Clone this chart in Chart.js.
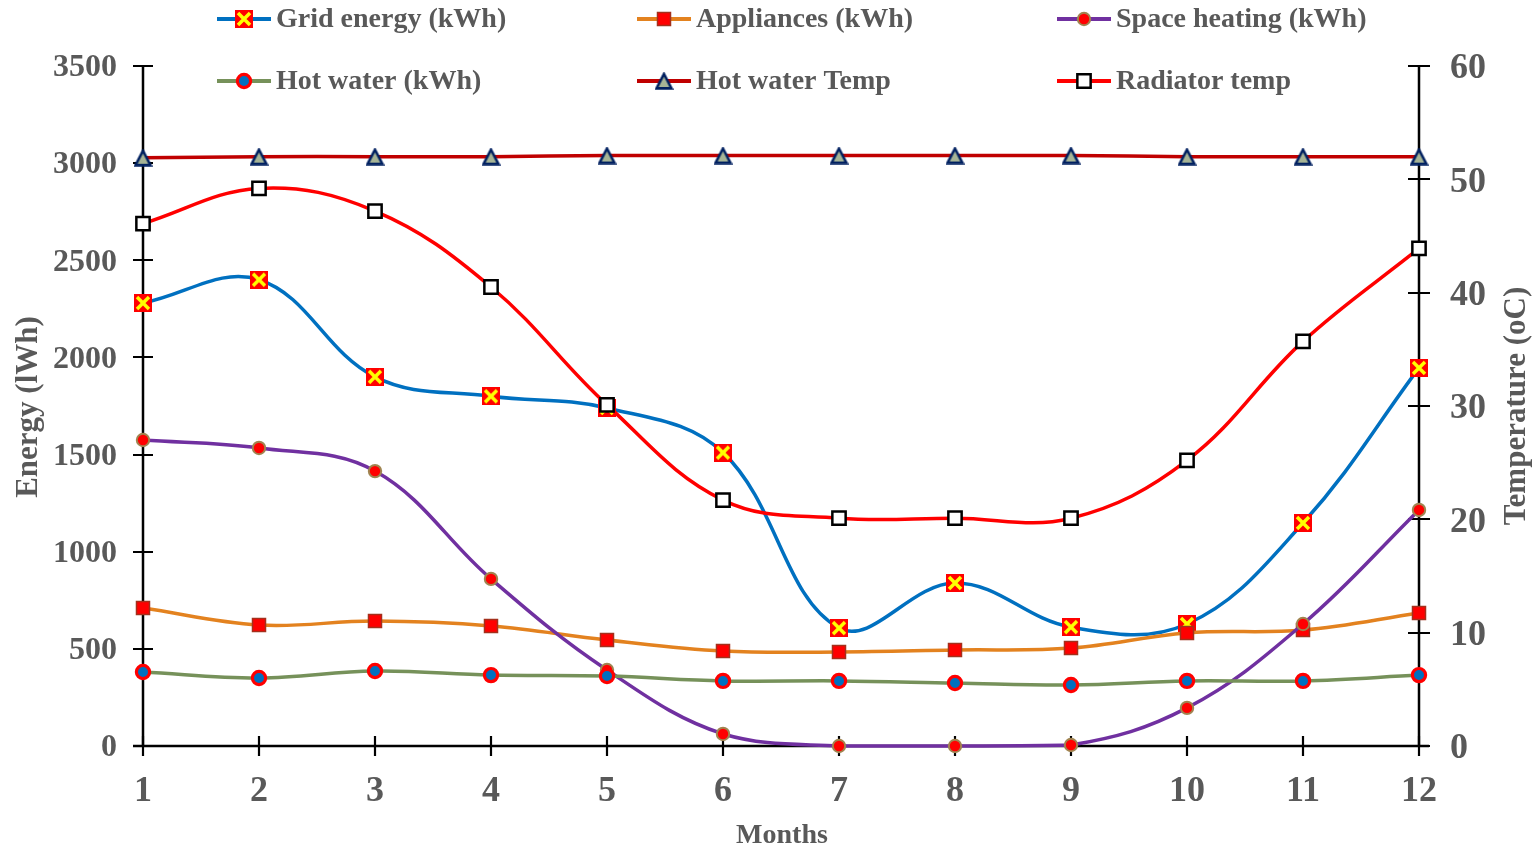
<!DOCTYPE html>
<html>
<head>
<meta charset="utf-8">
<script src="https://cdn.jsdelivr.net/npm/chart.js@4/dist/chart.umd.min.js"></script>
<style>
html,body{margin:0;padding:0;background:#fff;}
#wrap{width:1534px;height:849px;position:relative;}
</style>
</head>
<body>
<div id="wrap"><canvas id="c" width="1534" height="849"></canvas></div>
<script>
const months = ['1','2','3','4','5','6','7','8','9','10','11','12'];
const gridEnergy   = [2280, 2400, 1900, 1800, 1740, 1510, 607, 839, 612, 628, 1148, 1946];
const appliances   = [710, 623, 643, 618, 546, 489, 484, 494, 504, 582, 597, 685];
const spaceHeating = [1575, 1534, 1415, 860, 391, 62, 0, 0, 5, 196, 628, 1215];
const hotWater     = [381, 350, 386, 365, 360, 335, 335, 324, 314, 335, 335, 365];
const hotWaterTemp = [51.9, 52, 52, 52, 52.1, 52.1, 52.1, 52.1, 52.1, 52, 52, 52];
const radiatorTemp = [46.1, 49.2, 47.2, 40.5, 30.1, 21.7, 20.1, 20.1, 20.1, 25.2, 35.7, 43.9];
const energyTicks = [0, 500, 1000, 1500, 2000, 2500, 3000, 3500];
const tempTicks = [0, 10, 20, 30, 40, 50, 60];
const seriesNames = ['Grid energy (kWh)', 'Appliances (kWh)', 'Space heating (kWh)', 'Hot water (kWh)', 'Hot water Temp', 'Radiator temp'];

const SERIF = '"Liberation Serif", "Times New Roman", serif';
const GRAY = '#595959';

function makeGridMarker(){
  const s = 18, c = document.createElement('canvas');
  c.width = s; c.height = s;
  const g = c.getContext('2d');
  g.fillStyle = '#FF0000'; g.fillRect(0,0,s,s);
  g.strokeStyle = '#FFFF00'; g.lineWidth = 3.5; g.lineCap = 'butt';
  g.beginPath(); g.moveTo(3,3); g.lineTo(s-3,s-3); g.moveTo(s-3,3); g.lineTo(3,s-3); g.stroke();
  return c;
}
function makeTriMarker(){
  const w = 19, h = 18, c = document.createElement('canvas');
  c.width = w; c.height = h;
  const g = c.getContext('2d');
  g.fillStyle = '#A6B496'; g.strokeStyle = '#002060'; g.lineWidth = 2.6; g.lineJoin = 'miter';
  g.beginPath(); g.moveTo(w/2, 2); g.lineTo(w-2, h-1.6); g.lineTo(2, h-1.6); g.closePath();
  g.fill(); g.stroke();
  return c;
}
const gridImg = makeGridMarker();
const triImg = makeTriMarker();

const common = { tension: 0.38, borderWidth: 3.5, clip: false, fill: false };

const datasets = [
  Object.assign({}, common, { label: seriesNames[0], data: gridEnergy, yAxisID: 'y', borderColor: '#0070C0',
    pointStyle: gridImg, pointRadius: 9, order: 6 }),
  Object.assign({}, common, { label: seriesNames[1], data: appliances, yAxisID: 'y', borderColor: '#E3821F',
    pointStyle: 'rect', pointRadius: 9.2, pointBackgroundColor: '#FF0000', pointBorderColor: '#A3301C', pointBorderWidth: 1.5, order: 5 }),
  Object.assign({}, common, { label: seriesNames[2], data: spaceHeating, yAxisID: 'y', borderColor: '#7030A0',
    pointStyle: 'circle', pointRadius: 6.2, pointBackgroundColor: '#FF0000', pointBorderColor: '#A08450', pointBorderWidth: 2, order: 4 }),
  Object.assign({}, common, { label: seriesNames[3], data: hotWater, yAxisID: 'y', borderColor: '#76915A',
    pointStyle: 'circle', pointRadius: 6.6, pointBackgroundColor: '#0070C0', pointBorderColor: '#FF0000', pointBorderWidth: 3.2, order: 3 }),
  Object.assign({}, common, { label: seriesNames[4], data: hotWaterTemp, yAxisID: 'y1', borderColor: '#C00000',
    pointStyle: triImg, pointRadius: 9, order: 2 }),
  Object.assign({}, common, { label: seriesNames[5], data: radiatorTemp, yAxisID: 'y1', borderColor: '#FF0000',
    pointStyle: 'rect', pointRadius: 9.4, pointBackgroundColor: '#FFFFFF', pointBorderColor: '#000000', pointBorderWidth: 2.5, order: 1 })
];

const axesPlugin = {
  id: 'axesPlugin',
  beforeDatasetsDraw(chart){
    const ctx = chart.ctx, a = chart.chartArea;
    const x = chart.scales.x, y = chart.scales.y, y1 = chart.scales.y1;
    ctx.save();
    ctx.strokeStyle = '#000'; ctx.lineCap = 'butt';
    ctx.lineWidth = 2.5;
    ctx.beginPath();
    ctx.moveTo(a.left, a.top); ctx.lineTo(a.left, a.bottom);
    ctx.moveTo(a.right, a.top); ctx.lineTo(a.right, a.bottom);
    ctx.moveTo(a.left - 10, a.bottom); ctx.lineTo(a.right + 10, a.bottom);
    ctx.stroke();
    ctx.lineWidth = 2.2;
    ctx.beginPath();
    energyTicks.forEach(v => { const p = Math.round(y.getPixelForValue(v)); ctx.moveTo(a.left - 10, p); ctx.lineTo(a.left + 10, p); });
    tempTicks.forEach(v => { const p = Math.round(y1.getPixelForValue(v)); ctx.moveTo(a.right - 11, p); ctx.lineTo(a.right + 11, p); });
    months.forEach((m, i) => { const p = x.getPixelForValue(i); ctx.moveTo(p, a.bottom - 10); ctx.lineTo(p, a.bottom + 10); });
    ctx.stroke();
    ctx.restore();
  },
  afterDraw(chart){
    const ctx = chart.ctx;
    ctx.save();
    ctx.fillStyle = GRAY;
    ctx.font = 'bold 31px ' + SERIF;
    ctx.textAlign = 'center'; ctx.textBaseline = 'middle';
    ctx.save(); ctx.translate(29, 407); ctx.rotate(-Math.PI/2); ctx.fillText('Energy (lWh)', 0, 0); ctx.restore();
    ctx.save(); ctx.translate(1517, 406); ctx.rotate(-Math.PI/2); ctx.fillText('Temperature (oC)', 0, 0); ctx.restore();
    ctx.font = 'bold 28px ' + SERIF;
    ctx.fillText('Months', 782, 836);
    const cols = [217, 637, 1057], rows = [19, 81];
    chart.data.datasets.forEach((ds, i) => {
      const lx = cols[i % 3], ly = rows[Math.floor(i / 3)];
      ctx.strokeStyle = ds.borderColor; ctx.lineWidth = 4;
      ctx.beginPath(); ctx.moveTo(lx, ly); ctx.lineTo(lx + 54, ly); ctx.stroke();
      ctx.fillStyle = ds.pointBackgroundColor || '#000';
      ctx.strokeStyle = ds.pointBorderColor || '#000';
      ctx.lineWidth = ds.pointBorderWidth || 0;
      Chart.helpers.drawPoint(ctx, { pointStyle: ds.pointStyle, radius: ds.pointRadius, rotation: 0, borderWidth: ds.pointBorderWidth || 0 }, lx + 27, ly);
      ctx.fillStyle = GRAY;
      ctx.font = 'bold 28px ' + SERIF;
      ctx.textAlign = 'left'; ctx.textBaseline = 'middle';
      ctx.fillText(ds.label, lx + 59, ly + 1);
    });
    ctx.restore();
  }
};

new Chart(document.getElementById('c'), {
  type: 'line',
  data: { labels: months, datasets },
  options: {
    responsive: false,
    animation: false,
    events: [],
    layout: { padding: { top: 66, left: 0, right: 0, bottom: 0 } },
    plugins: { legend: { display: false }, tooltip: { enabled: false }, title: { display: false } },
    elements: { line: { capBezierPoints: true } },
    scales: {
      x: {
        type: 'category', offset: false,
        grid: { display: false, drawTicks: false }, border: { display: false },
        ticks: { color: GRAY, font: { family: SERIF, size: 36, weight: 'bold' }, padding: 24, maxRotation: 0, autoSkip: false },
        afterFit(s){ s.height = 103; }
      },
      y: {
        position: 'left', min: 0, max: 3500,
        grid: { display: false, drawTicks: false }, border: { display: false },
        ticks: { stepSize: 500, color: GRAY, font: { family: SERIF, size: 32, weight: 'bold' }, padding: 26, labelOffset: 2, callback: v => String(v) },
        afterBuildTicks(s){ s.ticks = energyTicks.map(v => ({ value: v })); },
        afterFit(s){ s.width = 143; }
      },
      y1: {
        position: 'right', min: 0, max: 60,
        grid: { display: false, drawTicks: false }, border: { display: false },
        ticks: { stepSize: 10, color: GRAY, font: { family: SERIF, size: 36, weight: 'bold' }, padding: 31, labelOffset: 3, callback: v => String(v) },
        afterBuildTicks(s){ s.ticks = tempTicks.map(v => ({ value: v })); },
        afterFit(s){ s.width = 115; }
      }
    }
  },
  plugins: [axesPlugin]
});
</script>
</body>
</html>
